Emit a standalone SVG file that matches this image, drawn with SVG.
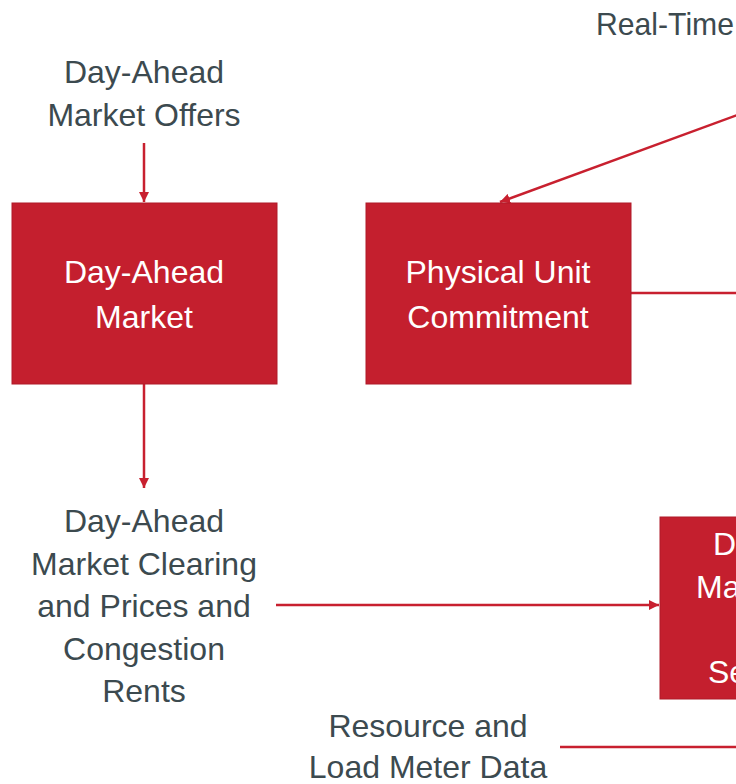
<svg xmlns="http://www.w3.org/2000/svg" width="736" height="784" viewBox="0 0 736 784">
  <style>
    .box { fill: #c41f2e; stroke: #b01a28; stroke-width: 1; }
    .lbl { font-family: "Liberation Sans", Arial, sans-serif; font-size: 32px; fill: #3c4a4f; text-anchor: middle; }
    .in { font-family: "Liberation Sans", Arial, sans-serif; font-size: 32px; fill: #ffffff; text-anchor: middle; }
    .edge { fill: none; stroke: #c8202f; stroke-width: 2.5; }
  </style>
  <defs>
    <marker id="arrow" viewBox="0 0 10 10" refX="10" refY="5" markerWidth="4" markerHeight="4" orient="auto" markerUnits="strokeWidth">
      <path d="M0,0 L10,5 L0,10 z" fill="#c8202f"/>
    </marker>
  </defs>
  <rect width="736" height="784" fill="#ffffff"/>

  <!-- connectors -->
  <g id="connectors">
    <line class="edge" x1="144" y1="143" x2="144" y2="202" marker-end="url(#arrow)"/>
    <line class="edge" x1="144" y1="384" x2="144" y2="488" marker-end="url(#arrow)"/>
    <line class="edge" x1="276" y1="605" x2="659" y2="605" marker-end="url(#arrow)"/>
    <line class="edge" x1="740" y1="114" x2="500" y2="202" marker-end="url(#arrow)"/>
    <line class="edge" x1="631" y1="293" x2="740" y2="293"/>
    <line class="edge" x1="560" y1="747" x2="740" y2="747"/>
  </g>

  <!-- free labels -->
  <g id="lbl-da-offers">
    <text class="lbl" x="144" y="83">Day-Ahead</text>
    <text class="lbl" x="144" y="126">Market Offers</text>
  </g>
  <g id="lbl-realtime">
    <text class="lbl" x="596" y="35" text-anchor="start" style="text-anchor:start" textLength="138" lengthAdjust="spacingAndGlyphs">Real-Time</text>
  </g>
  <g id="lbl-da-clearing">
    <text class="lbl" x="144" y="532">Day-Ahead</text>
    <text class="lbl" x="144" y="575">Market Clearing</text>
    <text class="lbl" x="144" y="617">and Prices and</text>
    <text class="lbl" x="144" y="660">Congestion</text>
    <text class="lbl" x="144" y="702">Rents</text>
  </g>
  <g id="lbl-meter">
    <text class="lbl" x="428" y="737">Resource and</text>
    <text class="lbl" x="428" y="778">Load Meter Data</text>
  </g>

  <!-- nodes -->
  <g id="node-da-market">
    <rect class="box" x="12" y="203" width="265" height="181"/>
    <text class="in" x="144" y="283">Day-Ahead</text>
    <text class="in" x="144" y="328">Market</text>
  </g>
  <g id="node-unit-commitment">
    <rect class="box" x="366" y="203" width="265" height="181"/>
    <text class="in" x="498" y="283">Physical Unit</text>
    <text class="in" x="498" y="328">Commitment</text>
  </g>
  <g id="node-settlement">
    <rect class="box" x="660" y="517" width="100" height="182"/>
    <text class="in" x="713" y="555" style="text-anchor:start">D</text>
    <text class="in" x="696" y="598" style="text-anchor:start">Ma</text>
    <text class="in" x="708" y="683" style="text-anchor:start">Se</text>
  </g>
</svg>
